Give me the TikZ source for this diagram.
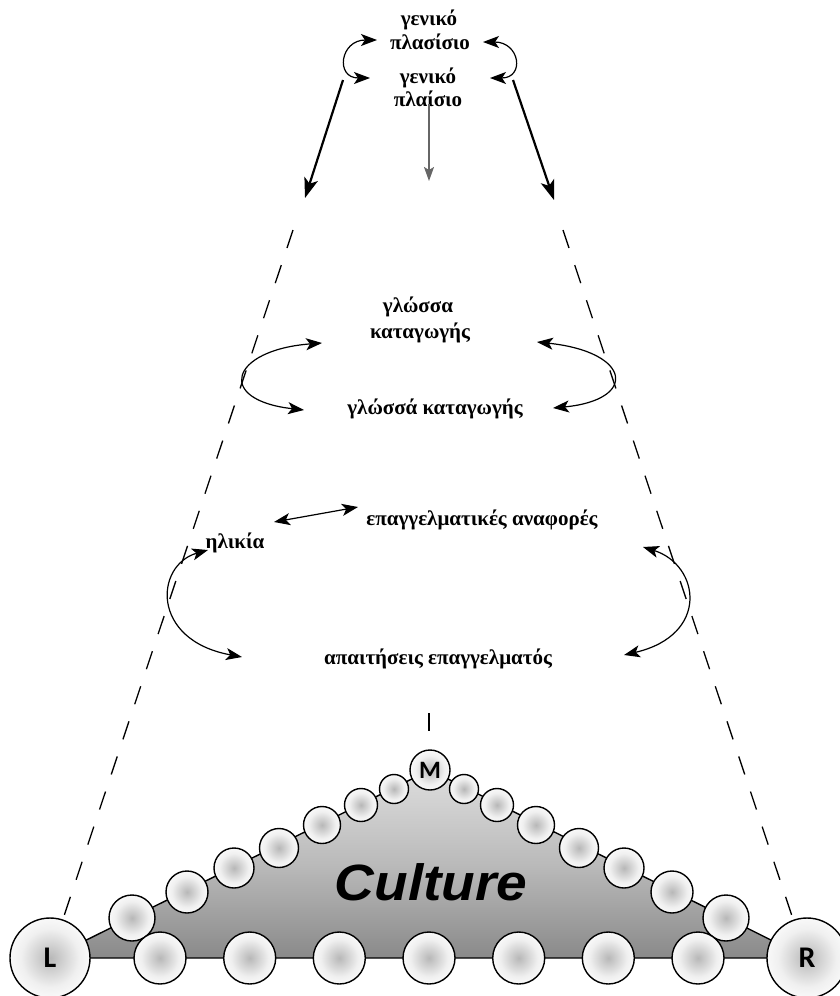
\documentclass[tikz,border=0pt]{standalone}
\usepackage{fontspec}
\setmainfont{Liberation Serif}
\newfontfamily\letterfont{Carlito}
\newfontfamily\culturefont{Liberation Sans}
\usetikzlibrary{arrows.meta}

% soft grey bead: darker centre fading to a white rim
\pgfdeclareradialshading{bead}{\pgfpoint{0bp}{0bp}}{color(0bp)=(black!28); color(18bp)=(black!6); color(30bp)=(white); color(50bp)=(white)}

\begin{document}
\begin{tikzpicture}[x=1pt,y=-1pt,
  term/.style={font=\fontsize{21}{21}\selectfont\bfseries, inner sep=0pt, anchor=base},
  tipc/.tip={Stealth[length=16pt,width=12pt,inset=4pt]},
  swing/.style={line width=1.2pt, tipc-tipc},
  bigarrow/.style={line width=2.2pt, -{Stealth[length=20pt,width=14pt,inset=5pt]}},
  guide/.style={line width=1.3pt, dash pattern=on 19pt off 18pt},
  bead/.style={circle, draw=black, line width=1.4pt, shading=bead, inner sep=0pt, minimum size=#1},
  corner/.style={bead=#1, font=\letterfont\fontsize{30}{30}\selectfont\bfseries}
]
\useasboundingbox (0,0) rectangle (839,996);

% ---- labels ----
\node[term] (g1) at (429,25) {γενικό};
\node[term] (p1) at (430,49) {πλασίσιο};
\node[term] (g2) at (428,83) {γενικό};
\node[term] (p2) at (428,106) {πλαίσιο};
\node[term] (gl) at (418,312) {γλώσσα};
\node[term] (kt) at (420,338) {καταγωγής};
\node[term] (gk) at (435,414) {γλώσσά καταγωγής};
\node[term] (ea) at (482,525) {επαγγελματικές αναφορές};
\node[term] (il) at (235,548) {ηλικία};
\node[term] (ae) at (438,664) {απαιτήσεις επαγγελματός};

% ---- arrow end points ----
\coordinate (tl1) at (377,40);  \coordinate (tl2) at (370,78);
\coordinate (tr1) at (483,42);  \coordinate (tr2) at (490,78);
\coordinate (ls) at (343,80);   \coordinate (le) at (305,198);
\coordinate (rs) at (513,80);   \coordinate (re) at (554,200);
\coordinate (ds) at (429,104);  \coordinate (de) at (429,181);
\coordinate (ml1) at (322,343); \coordinate (ml2) at (304,410);
\coordinate (mr1) at (537,342); \coordinate (mr2) at (553,408);
\coordinate (hs) at (274,522);  \coordinate (he) at (358,507);
\coordinate (bl1) at (208,550); \coordinate (bl2) at (242,657);
\coordinate (br1) at (643,547); \coordinate (br2) at (624,655);
\coordinate (dl1) at (293,230); \coordinate (dl2) at (63,919);
\coordinate (dr1) at (563,230); \coordinate (dr2) at (793,919);
\coordinate (t1) at (429,713);  \coordinate (t2) at (429,731);

% ---- connectors ----
\draw[swing] (tl1) .. controls (340,40) and (335,78) .. (tl2);
\draw[swing] (tr1) .. controls (520,42) and (525,78) .. (tr2);
\draw[bigarrow] (ls) -- (le);
\draw[bigarrow] (rs) -- (re);
\draw[line width=1.5pt, black!60, -{Stealth[length=14pt,width=10pt,inset=3pt]}] (ds) -- (de);
\draw[swing] (ml1) .. controls (230,350) and (215,400) .. (ml2);
\draw[swing] (mr1) .. controls (632,352) and (638,400) .. (mr2);
\draw[swing] (hs) -- (he);
\draw[swing] (bl1) .. controls (155,565) and (150,640) .. (bl2);
\draw[swing] (br1) .. controls (700,565) and (710,635) .. (br2);
\draw[guide] (dl1) -- (dl2);
\draw[guide] (dr1) -- (dr2);
\draw[line width=1.3pt] (t1) -- (t2);

% ---- culture triangle ----
\path[shading=axis, top color=black!13, bottom color=black!46, middle color=black!27]
  (50,958) -- (430,770) -- (807,958) -- cycle;
\draw[line width=1.4pt] (50,958) -- (430,770) -- (807,958) -- cycle;
\node[font=\culturefont\fontsize{51}{51}\selectfont\bfseries\itshape, inner sep=0pt, anchor=base, xscale=1.08] (cu) at (431,900) {Culture};

% beads along the left edge
\foreach \x/\y/\d [count=\i] in {132/918/46, 187/892/42, 234/868/40, 279/848/39, 322/825/37, 361/805/33, 394/789/29}
  \node[bead=\d pt] (lb\i) at (\x,\y) {};
% beads along the right edge
\foreach \x/\y/\d [count=\i] in {726/918/46, 672/892/42, 624/868/40, 579/848/39, 536/825/37, 497/805/33, 464/789/29}
  \node[bead=\d pt] (rb\i) at (\x,\y) {};
% beads along the base
\foreach \x [count=\i] in {160,249.7,339.3,429,518.7,608.3,698}
  \node[bead=52pt] (bb\i) at (\x,958) {};

% corner beads
\node[corner=40pt, font=\letterfont\fontsize{25}{25}\selectfont\bfseries] (M) at (430,770) {M};
\node[corner=80pt] (L) at (50,958) {L};
\node[corner=80pt] (R) at (807,958) {R};
\end{tikzpicture}
\end{document}
